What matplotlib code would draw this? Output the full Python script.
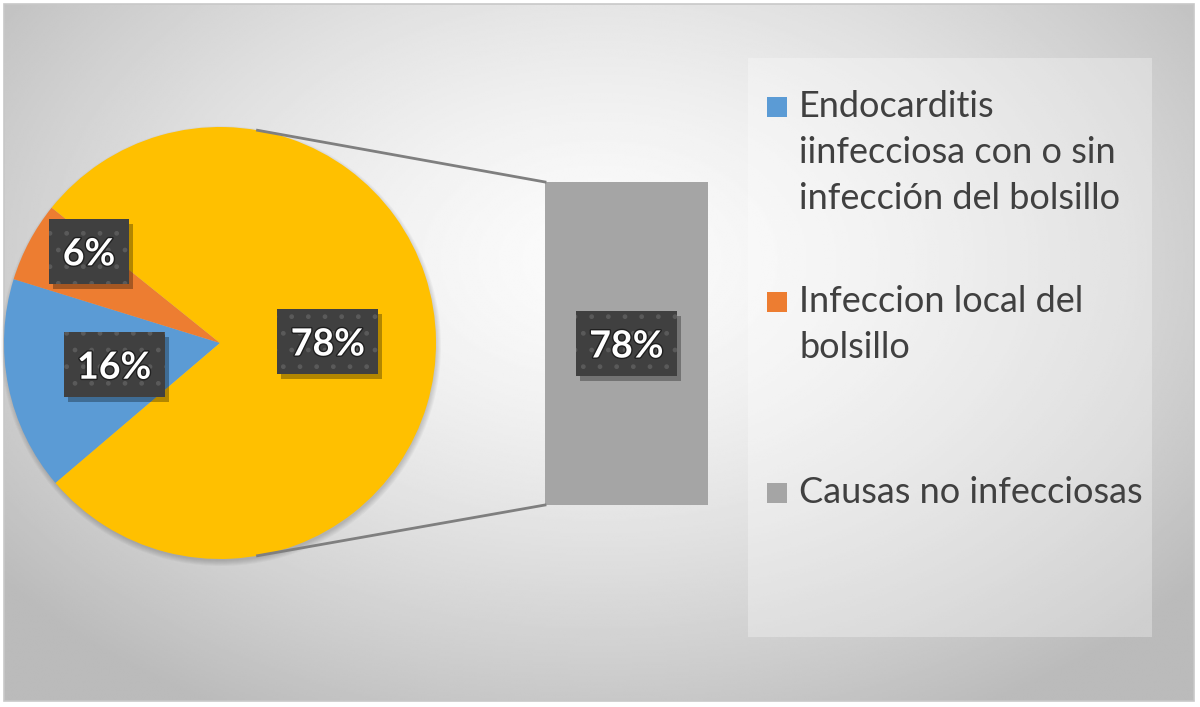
import numpy as np
import matplotlib.pyplot as plt
import matplotlib.patheffects as pe
from matplotlib.patches import Rectangle, Circle

categories = ['Endocarditis\niinfecciosa con o sin\ninfección del bolsillo',
              'Infeccion local del\nbolsillo',
              'Causas no infecciosas']
values = [16, 6, 78]
colors = ['#5B9BD5', '#ED7D31', '#A5A5A5']
other_color = '#FFC000'

# pie shows first two + "other" (split out to the bar)
n_pie = 2
pie_values = values[:n_pie] + [sum(values[n_pie:])]
pie_colors = colors[:n_pie] + [other_color]
bar_values = values[n_pie:]
bar_colors = colors[n_pie:]

H = 707
def Y(y):
    # image pixel row -> data y
    return H - y

plt.rcParams['font.family'] = ['Lato', 'DejaVu Sans']

fig = plt.figure(figsize=(12, 7.07), dpi=100)
ax = fig.add_axes([0, 0, 1, 1])

# background: soft radial gradient like the Excel chart area
gx = np.linspace(4, 1194, 600)
gy = np.linspace(4, 701, 350)
GX, GY = np.meshgrid(gx, gy)
d = np.sqrt(((GX - 600) / 700) ** 2 + ((GY - 260) / 470) ** 2)
g = 0.985 - 0.22 * np.clip(d, 0, 1.1) ** 1.5
ax.imshow(g, cmap='gray', vmin=0, vmax=1, extent=(4, 1194, Y(701), Y(4)),
          origin='upper', aspect='auto', zorder=0, interpolation='bilinear')
ax.add_patch(Rectangle((4, Y(701)), 1190, 697, fill=False, edgecolor='#C8C8C8', lw=1.2, zorder=1))

# pie
cx, cy, r = 220, Y(343), 216
for k in range(6):
    ax.add_patch(Circle((cx + 1, cy - 3), r + 4 - k, color='black', alpha=0.03, lw=0, zorder=1))
wedges, _ = ax.pie(pie_values, colors=pie_colors, startangle=220.4, counterclock=False,
                   center=(cx, cy), radius=r, wedgeprops=dict(linewidth=0, zorder=2))

# bar of the split-out part
bar_x0, bar_w = 545, 163
bar_top, bar_bot = Y(182), Y(505)
scale = (bar_top - bar_bot) / sum(bar_values)
bottom = bar_bot
for v, c in zip(bar_values, bar_colors):
    ax.bar(bar_x0 + bar_w / 2, v * scale, width=bar_w, bottom=bottom, color=c, zorder=2)
    bottom += v * scale

# connector lines
ang = np.deg2rad(80)
px, py = cx + r * np.cos(ang), r * np.sin(ang)
ax.plot([px, bar_x0], [cy + py, bar_top], color='#7F7F7F', lw=2, zorder=3)
ax.plot([px, bar_x0], [cy - py, bar_bot], color='#7F7F7F', lw=2, zorder=3)


def label_box(x, y, s):
    w, h = 38 + 21 * len(s), 65
    ax.add_patch(Rectangle((x - w / 2 + 4, y - h / 2 - 5), w, h, facecolor='black',
                           alpha=0.3, lw=0, zorder=4))
    ax.add_patch(Rectangle((x - w / 2, y - h / 2), w, h, facecolor='#404040',
                           edgecolor='#5A5A5A', hatch='.', lw=0, zorder=5))
    ax.text(x, y, s, ha='center', va='center_baseline', color='white', fontsize=27,
            fontweight='bold', zorder=6,
            path_effects=[pe.withStroke(linewidth=2, foreground='#202020')])


label_frac = [0.5, 0.74, 0.5]
label_shift = [0, -7, 0]
for wdg, v, f, sh in zip(wedges, pie_values, label_frac, label_shift):
    a = np.deg2rad((wdg.theta1 + wdg.theta2) / 2 + sh)
    label_box(cx + f * r * np.cos(a), cy + f * r * np.sin(a), f'{v}%')

bottom = bar_bot
for v in bar_values:
    label_box(bar_x0 + bar_w / 2, bottom + v * scale / 2, f'{v}%')
    bottom += v * scale

# legend panel
ax.add_patch(Rectangle((748, Y(637)), 404, 579, facecolor='white', alpha=0.3, lw=0, zorder=2))
entry_base = [117, 312, 503]
line_step = 46
for lab, c, b in zip(categories, colors, entry_base):
    ax.add_patch(Rectangle((767, Y(b)), 20, 20, facecolor=c, lw=0, zorder=3))
    for i, line in enumerate(lab.split('\n')):
        ax.text(799, Y(b + i * line_step), line, ha='left', va='baseline', fontsize=26,
                color='#404040', zorder=3)

ax.set_xlim(0, 1200)
ax.set_ylim(0, H)
ax.axis('off')
fig.patch.set_facecolor('white')
fig.savefig('out.png', dpi=100)
